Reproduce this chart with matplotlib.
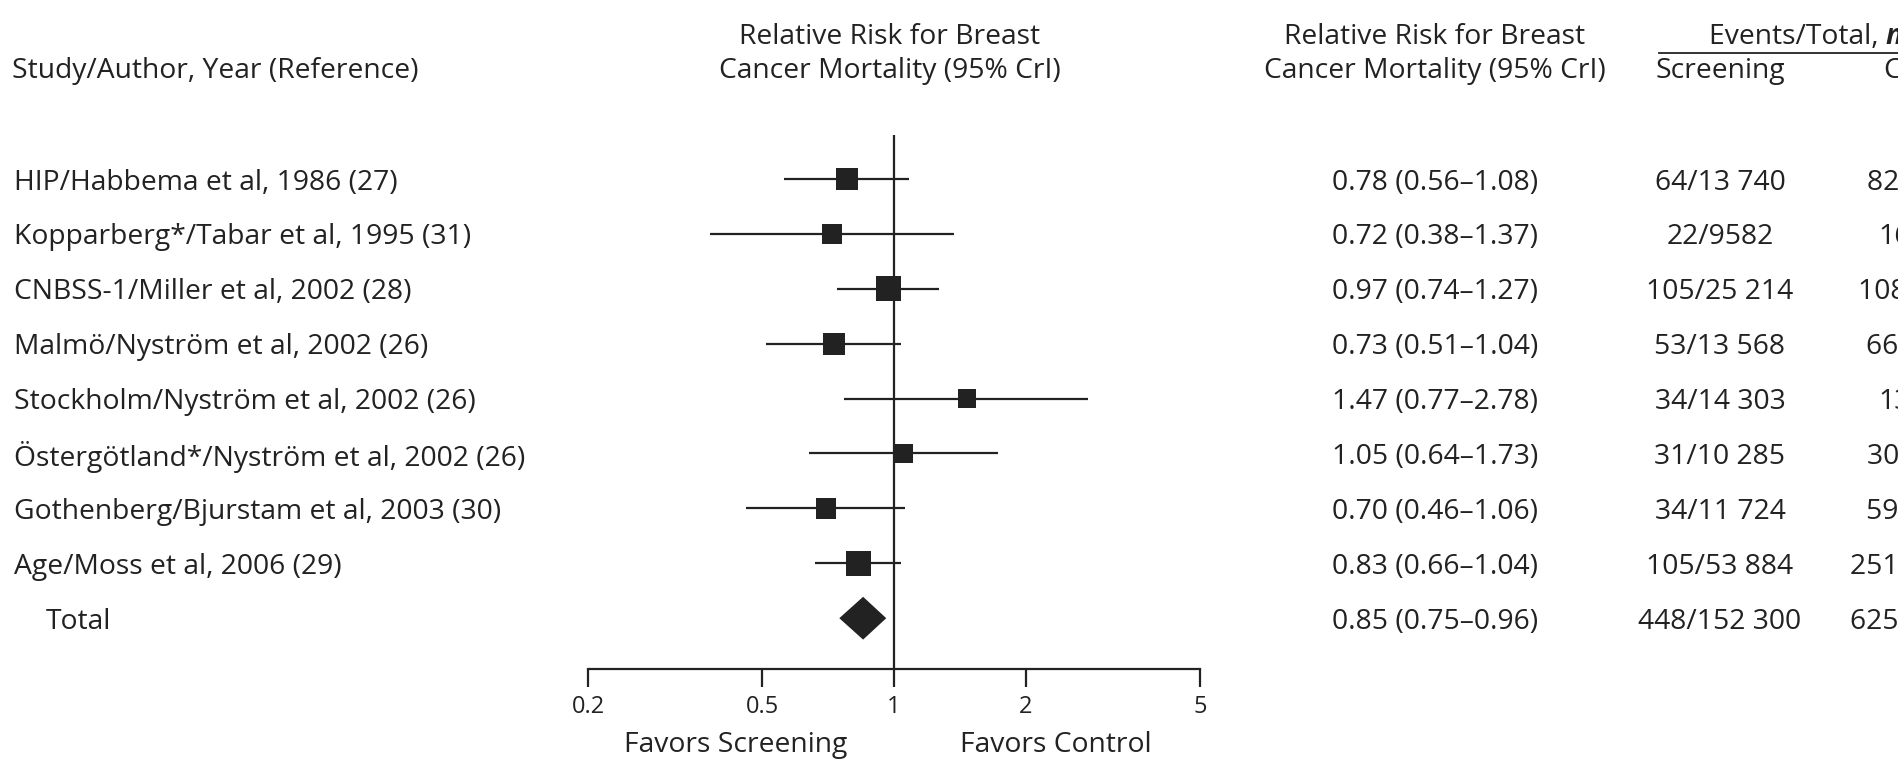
import matplotlib
matplotlib.use("Agg")
import matplotlib.pyplot as plt
import matplotlib.transforms as mtransforms

plt.rcParams['font.family'] = ['Open Sans', 'DejaVu Sans']

# data
studies = ["HIP/Habbema et al, 1986 (27)",
           "Kopparberg*/Tabar et al, 1995 (31)",
           "CNBSS-1/Miller et al, 2002 (28)",
           "Malmö/Nyström et al, 2002 (26)",
           "Stockholm/Nyström et al, 2002 (26)",
           "Östergötland*/Nyström et al, 2002 (26)",
           "Gothenberg/Bjurstam et al, 2003 (30)",
           "Age/Moss et al, 2006 (29)"]
rr = [0.78, 0.72, 0.97, 0.73, 1.47, 1.05, 0.70, 0.83]
lo = [0.56, 0.38, 0.74, 0.51, 0.77, 0.64, 0.46, 0.66]
hi = [1.08, 1.37, 1.27, 1.04, 2.78, 1.73, 1.06, 1.04]
weights = [22, 20, 25, 22, 18.5, 19.5, 20.5, 25.5]   # box side, px
screening = ["64/13 740", "22/9582", "105/25 214", "53/13 568",
             "34/14 303", "31/10 285", "34/11 724", "105/53 884"]
control = ["82/13 740", "16/5031", "108/25 216", "66/13 551",
           "13/7103", "30/10 459", "59/14 217", "251/106 956"]
total_rr, total_lo, total_hi = 0.85, 0.75, 0.96
total_screening = "448/152 300"
total_control = "625/185 300"
xticks = [0.2, 0.5, 1, 2, 5]
xticklabels = ["0.2", "0.5", "1", "2", "5"]

W, H = 1899, 764
fig = plt.figure(figsize=(W / 100, H / 100), dpi=100)

# forest axes placed in pixels
top_px, bot_px = 135, 669
ax = fig.add_axes([588 / W, (H - bot_px) / H, 612 / W, (bot_px - top_px) / H])
row0, step = 179, 54.9
ax.set_xscale('log')
ax.set_xlim(0.2, 5)
ax.set_ylim((bot_px - row0) / step, (top_px - row0) / step)

ink = '#222222'
for s in ['top', 'right', 'left']:
    ax.spines[s].set_visible(False)
ax.spines['bottom'].set_linewidth(1.6)
ax.spines['bottom'].set_color(ink)
ax.set_yticks([])
ax.set_xticks(xticks)
ax.set_xticklabels(xticklabels)
ax.xaxis.set_minor_locator(matplotlib.ticker.NullLocator())
ax.tick_params(axis='x', direction='out', length=13, width=1.6, color=ink,
               labelsize=17, labelcolor=ink, pad=6)
ax.axvline(1, color=ink, lw=1.6, zorder=1)

rows = list(range(len(studies)))
ax.hlines(rows, lo, hi, color=ink, lw=1.6, zorder=2)
ax.scatter(rr, rows, marker='s', s=[(w * 0.72) ** 2 for w in weights],
           color=ink, zorder=3, linewidths=0)

t = len(studies)
dh = 0.39
ax.fill([total_lo, total_rr, total_hi, total_rr], [t, t - dh, t, t + dh],
        color=ink, lw=0, zorder=3)

# text columns tied to rows
tr = mtransforms.blended_transform_factory(fig.transFigure, ax.transData)
fs = 20.3
cell = dict(transform=tr, fontsize=fs, va='center_baseline', color=ink,
            clip_on=False)
for i, name in enumerate(studies):
    ax.text(14 / W, i, name, ha='left', **cell)
    ax.text(1435 / W, i, f"{rr[i]:.2f} ({lo[i]:.2f}\u2013{hi[i]:.2f})",
            ha='center', **cell)
    ax.text(1720 / W, i, screening[i], ha='center', **cell)
    ax.text(1932 / W, i, control[i], ha='center', **cell)
ax.text(46 / W, t, "Total", ha='left', **cell)
ax.text(1435 / W, t, f"{total_rr:.2f} ({total_lo:.2f}\u2013{total_hi:.2f})",
        ha='center', **cell)
ax.text(1720 / W, t, total_screening, ha='center', **cell)
ax.text(1932 / W, t, total_control, ha='center', **cell)

# headers
def fy(px):
    return 1 - px / H

l1, l2 = 37, 71
hdr = dict(fontsize=fs, color=ink, va='center')
fig.text(12 / W, fy(l2), "Study/Author, Year (Reference)", ha='left', **hdr)
for cx in (890, 1435):
    fig.text(cx / W, fy(l1), "Relative Risk for Breast", ha='center', **hdr)
    fig.text(cx / W, fy(l2), "Cancer Mortality (95% CrI)", ha='center', **hdr)
fig.text(1720 / W, fy(l2), "Screening", ha='center', **hdr)
fig.text(1932 / W, fy(l2), "Control", ha='center', **hdr)
ev = fig.text(1709 / W, fy(l1), "Events/Total, ", ha='left', **hdr)
fig.canvas.draw()
bb = ev.get_window_extent()
fig.text(bb.x1 / W, fy(l1), "n", ha='left', style='italic', fontsize=fs,
         color=ink, va='center', weight='bold')
fig.add_artist(plt.Line2D([1659 / W, 1], [fy(53), fy(53)], color=ink,
                          lw=1.3, transform=fig.transFigure))

fig.text(736 / W, fy(745), "Favors Screening", ha='center', **hdr)
fig.text(1056 / W, fy(745), "Favors Control", ha='center', **hdr)

fig.savefig("out.png", dpi=100)
